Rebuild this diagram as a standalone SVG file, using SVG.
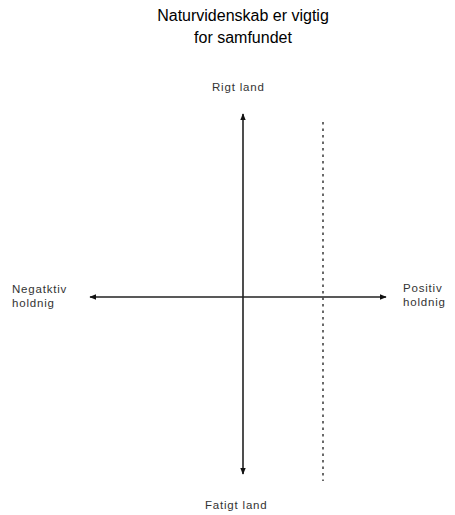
<svg xmlns="http://www.w3.org/2000/svg" width="455" height="515" viewBox="0 0 455 515">
<style>
.title{font-family:"Liberation Sans",Arial,sans-serif;font-size:16px;fill:#000;text-anchor:middle}
.lbl{font-family:"Liberation Sans",Arial,sans-serif;font-size:11.5px;fill:#333;letter-spacing:0.8px}
.axis{stroke:#222;stroke-width:1.6;fill:none}
.dash{stroke:#444;stroke-width:1.6;stroke-dasharray:2.5,4;fill:none}
</style>
<defs>
<marker id="ah" viewBox="0 0 10 10" refX="9" refY="5" markerWidth="7" markerHeight="7" orient="auto-start-reverse" markerUnits="userSpaceOnUse">
<path d="M0,1 L10,5 L0,9 Z" fill="#111"/>
</marker>
</defs>
<rect width="455" height="515" fill="#fff"/>
<g id="title">
<text class="title" x="243" y="21">Naturvidenskab er vigtig</text>
<text class="title" x="243" y="43">for samfundet</text>
</g>
<g id="connectors">
<line class="axis" x1="243" y1="114" x2="243" y2="474" marker-start="url(#ah)" marker-end="url(#ah)"/>
<line class="axis" x1="90" y1="297" x2="386" y2="297" marker-start="url(#ah)" marker-end="url(#ah)"/>
<line class="dash" x1="323" y1="122" x2="323" y2="481"/>
</g>
<g id="top-label"><text class="lbl" x="212" y="91">Rigt land</text></g>
<g id="left-label"><text class="lbl" x="12" y="293">Negatktiv</text><text class="lbl" x="12" y="307">holdnig</text></g>
<g id="right-label"><text class="lbl" x="403" y="292">Positiv</text><text class="lbl" x="403" y="306">holdnig</text></g>
<g id="bottom-label"><text class="lbl" x="205" y="509">Fatigt land</text></g>
</svg>
